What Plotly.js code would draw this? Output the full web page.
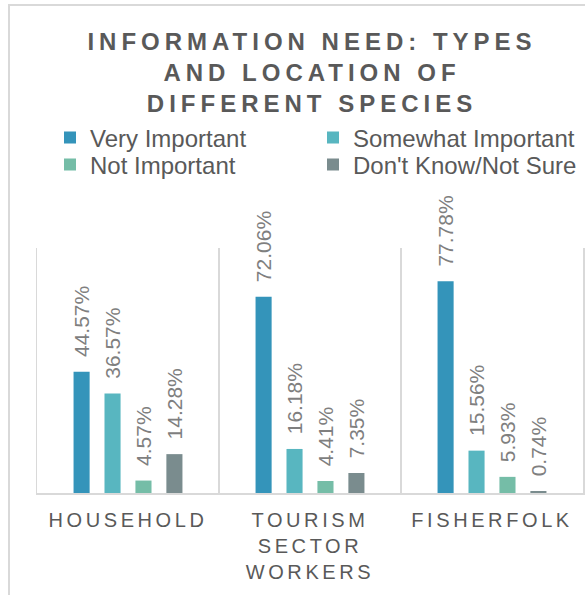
<!DOCTYPE html>
<html>
<head>
<meta charset="utf-8">
<script src="https://cdn.plot.ly/plotly-3.0.1.min.js"></script>
<style>
  html, body { margin: 0; padding: 0; background: #fff; overflow: hidden; }
  #chart { position: absolute; left: 0; top: 0; width: 585px; height: 595px; }
  #frame { position: absolute; left: 8px; top: 4px; width: 700px; height: 700px;
           border-left: 2px solid #d9d9d9; border-top: 2px solid #d9d9d9; pointer-events: none; }
  .gtitle { letter-spacing: 5px; }
  .xtick text { letter-spacing: 3.6px; }
</style>
</head>
<body>
<div id="chart"></div>
<div id="frame"></div>
<script>
const categories = ["HOUSEHOLD", "TOURISM SECTOR WORKERS", "FISHERFOLK"];
const tickLabels = ["HOUSEHOLD", "TOURISM<br>SECTOR<br>WORKERS", "FISHERFOLK"];
const seriesNames = ["Very Important", "Somewhat Important", "Not Important", "Don't Know/Not Sure"];
const veryImportant = [44.57, 72.06, 77.78];
const somewhatImportant = [36.57, 16.18, 15.56];
const notImportant = [4.57, 4.41, 5.93];
const dontKnow = [14.28, 7.35, 0.74];
const seriesValues = [veryImportant, somewhatImportant, notImportant, dontKnow];
const colors = ["#3494BA", "#58B6C0", "#75BDA7", "#7A8C8E"];
const legendIds = ["legend", "legend2", "legend3", "legend4"];

const traces = seriesValues.map((vals, i) => ({
  type: "bar",
  name: seriesNames[i],
  x: categories,
  y: vals,
  marker: { color: colors[i] },
  legend: legendIds[i],
  texttemplate: "\u00a0\u00a0%{y:.2f}%",
  textposition: "outside",
  textangle: -90,
  constraintext: "none",
  cliponaxis: false,
  textfont: { family: "Liberation Sans, Arial, sans-serif", size: 21, color: "#7f7f7f" },
  hoverinfo: "skip"
}));

const legendBase = {
  orientation: "h",
  xref: "container", yref: "container",
  xanchor: "left", yanchor: "middle",
  itemwidth: 30,
  bgcolor: "rgba(0,0,0,0)",
  font: { family: "Liberation Sans, Arial, sans-serif", size: 24, color: "#595959" }
};
const legendPos = [[50, 138], [313, 138], [50, 165], [313, 165]];

const layout = {
  width: 585, height: 595,
  margin: { l: 37, r: 2, t: 248, b: 102 },
  paper_bgcolor: "rgba(0,0,0,0)",
  plot_bgcolor: "rgba(0,0,0,0)",
  barmode: "group",
  bargap: 0.32,
  bargroupgap: 0.48,
  title: {
    text: "INFORMATION NEED: TYPES<br>AND LOCATION OF<br>DIFFERENT SPECIES",
    font: { family: "Liberation Sans, Arial, sans-serif", size: 24, color: "#595959", weight: "bold" },
    x: 312 / 585, xanchor: "center",
    yref: "container", y: 1 - 50 / 595, yanchor: "top"
  },
  xaxis: {
    type: "category",
    tickvals: categories,
    ticktext: tickLabels,
    tickson: "boundaries",
    ticks: "",
    ticklabelstandoff: 8,
    ticklabelshift: 0,
    showgrid: true,
    gridcolor: "#d9d9d9",
    gridwidth: 1.5,
    showline: true,
    linecolor: "#d9d9d9",
    linewidth: 2,
    tickfont: { family: "Liberation Sans, Arial, sans-serif", size: 20, color: "#595959" },
    fixedrange: true
  },
  yaxis: {
    range: [0, 90],
    showticklabels: false,
    ticks: "",
    showgrid: false,
    zeroline: false,
    showline: true,
    mirror: true,
    linecolor: "#d9d9d9",
    linewidth: 1.5,
    fixedrange: true
  },
  showlegend: true
};
legendIds.forEach((id, i) => {
  layout[id] = Object.assign({}, legendBase, {
    x: legendPos[i][0] / 585,
    y: 1 - legendPos[i][1] / 595
  });
});

Plotly.newPlot("chart", traces, layout, { displayModeBar: false, staticPlot: true });
</script>
</body>
</html>
